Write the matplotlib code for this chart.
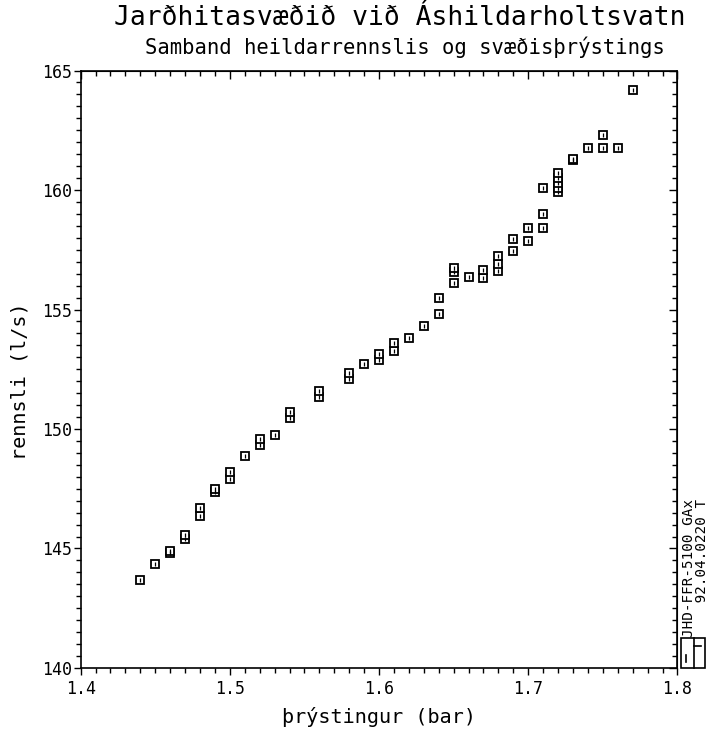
import matplotlib
matplotlib.use("Agg")
import matplotlib.pyplot as plt
from matplotlib.ticker import MultipleLocator
from matplotlib.patches import Rectangle
from matplotlib.lines import Line2D

# ---- data ----
pressure = [1.44, 1.45, 1.46, 1.46, 1.47, 1.47, 1.48, 1.48, 1.49, 1.49,
            1.50, 1.50, 1.51, 1.52, 1.52, 1.53, 1.54, 1.54, 1.56, 1.56,
            1.58, 1.58, 1.59, 1.60, 1.60, 1.61, 1.61, 1.62, 1.63, 1.64,
            1.64, 1.65, 1.65, 1.65, 1.66, 1.67, 1.67, 1.68, 1.68, 1.68,
            1.69, 1.69, 1.70, 1.70, 1.71, 1.71, 1.71, 1.72, 1.72, 1.72,
            1.72, 1.72, 1.73, 1.73, 1.74, 1.75, 1.75, 1.76, 1.77]
flow = [143.7, 144.35, 144.8, 144.9, 145.4, 145.55, 146.35, 146.7, 147.35, 147.5,
        147.9, 148.2, 148.85, 149.35, 149.6, 149.75, 150.45, 150.7, 151.35, 151.6,
        152.1, 152.35, 152.7, 152.9, 153.15, 153.25, 153.6, 153.8, 154.3, 154.8,
        155.5, 156.1, 156.55, 156.75, 156.35, 156.3, 156.65, 156.6, 156.9, 157.25,
        157.45, 157.95, 157.85, 158.4, 158.4, 159.0, 160.1, 159.9, 160.1, 160.3,
        160.5, 160.7, 161.25, 161.3, 161.75, 161.75, 162.3, 161.75, 164.2]

title = "Jarðhitasvæðið við Áshildarholtsvatn"
subtitle = "Samband heildarrennslis og svæðisþrýstings"
xlabel = "þrýstingur (bar)"
ylabel = "rennsli (l/s)"
xticks = [1.4, 1.5, 1.6, 1.7, 1.8]
xticklabels = ["1.4", "1.5", "1.6", "1.7", "1.8"]
yticks = [140, 145, 150, 155, 160, 165]
side_text = "JHD-FFR-5100 GAx\n 92.04.0220 T"

FONT = "DejaVu Sans Mono"
plt.rcParams['font.family'] = [FONT, 'DejaVu Sans']

fig = plt.figure(figsize=(7.12, 7.33), dpi=100)
ax = fig.add_axes([0.1132, 0.0887, 0.8383, 0.8151])

ax.plot(pressure, flow, linestyle='none', marker='s', markersize=6.3,
        markerfacecolor='white', markeredgecolor='black', markeredgewidth=1.3)
ax.plot(pressure, flow, linestyle='none', marker='|', markersize=2.5,
        color='black', markeredgewidth=0.9)

ax.set_xlim(1.4, 1.8)
ax.set_ylim(140, 165)
ax.set_xticks(xticks)
ax.set_xticklabels(xticklabels)
ax.set_yticks(yticks)
ax.xaxis.set_minor_locator(MultipleLocator(0.01))
ax.yaxis.set_minor_locator(MultipleLocator(0.5))
ax.tick_params(which='both', direction='out', width=1.0, labelsize=12,
               top=False, right=False)
ax.tick_params(axis='y', pad=1)
ax.tick_params(axis='x', pad=4)
ax.tick_params(which='major', length=5)
ax.tick_params(which='minor', length=3.5)
for s in ax.spines.values():
    s.set_linewidth(1.2)

# top/right ticks pointing inward
secx = ax.secondary_xaxis('top')
secx.set_xticks(xticks)
secx.xaxis.set_minor_locator(MultipleLocator(0.01))
secx.tick_params(which='both', direction='in', labeltop=False, width=1.0)
secx.tick_params(which='major', length=6)
secx.tick_params(which='minor', length=3.5)
secy = ax.secondary_yaxis('right')
secy.set_yticks(yticks)
secy.yaxis.set_minor_locator(MultipleLocator(0.5))
secy.tick_params(which='both', direction='in', labelright=False, width=1.0)
secy.tick_params(which='major', length=6)
secy.tick_params(which='minor', length=3.5)

ax.set_xlabel(xlabel, fontsize=14.5, labelpad=6)
ax.set_ylabel(ylabel, fontsize=14.5)
ax.yaxis.set_label_coords(-0.085, 0.48)

fig.text(0.562, 0.975, title, ha='center', va='center', fontsize=19)
fig.text(0.568, 0.935, subtitle, ha='center', va='center', fontsize=14.8)

fig.text(0.996, 0.131, side_text, ha='right', va='bottom', rotation=90,
         fontsize=10.3, linespacing=0.95)

# small logo box
bx0, by0, bw, bh = 681/712, 1-668/733, 24/712, 30/733
fig.add_artist(Rectangle((bx0, by0), bw, bh, transform=fig.transFigure,
                         fill=False, edgecolor='black', linewidth=1.2))
fig.add_artist(Line2D([bx0 + bw*0.55, bx0 + bw*0.55], [by0, by0 + bh],
                      transform=fig.transFigure, color='black', lw=1.2))
fig.add_artist(Line2D([bx0 + bw*0.55, bx0 + bw*0.85], [by0 + bh*0.75, by0 + bh*0.75],
                      transform=fig.transFigure, color='black', lw=1.2))
fig.add_artist(Line2D([bx0 + bw*0.2, bx0 + bw*0.2], [by0 + bh*0.2, by0 + bh*0.45],
                      transform=fig.transFigure, color='black', lw=1.2))

fig.savefig("out.png", dpi=100, facecolor='white')
